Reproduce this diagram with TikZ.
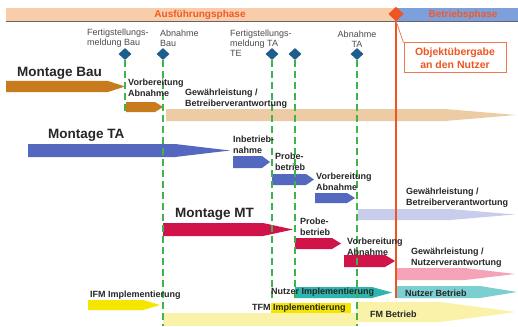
\documentclass[tikz,border=0pt]{standalone}
\usepackage{fontspec}
\setmainfont{Liberation Sans}
\usetikzlibrary{shapes.geometric}
\definecolor{peach}{HTML}{FACDAA}
\definecolor{hblue}{HTML}{7DA0DC}
\definecolor{horange}{HTML}{F05A28}
\definecolor{brown}{HTML}{C77B1C}
\definecolor{tan}{HTML}{EDCBA5}
\definecolor{tablue}{HTML}{5468C0}
\definecolor{lav}{HTML}{C8CDEB}
\definecolor{crim}{HTML}{D0144A}
\definecolor{pink}{HTML}{F5A3B8}
\definecolor{teal}{HTML}{2DB5AE}
\definecolor{lteal}{HTML}{7CCFD0}
\definecolor{yel}{HTML}{F5E600}
\definecolor{lyel}{HTML}{FAF2A8}
\definecolor{grn}{HTML}{3DB54A}
\definecolor{dblue}{HTML}{1F5E8C}
\definecolor{oline}{HTML}{EE5522}
\newcommand\bandarrow[6]{\fill[#1] (#2,#3) -- (#6,#3) -- (#4,{(#3+#5)/2}) -- (#6,#5) -- (#2,#5) -- cycle;}
\begin{document}
\begin{tikzpicture}[x=1pt,y=-1pt,
  lbl/.style={inner sep=0pt, anchor=west, align=left, font=\fontsize{9}{10.8}\selectfont\bfseries, text=black!85},
  ms/.style={inner sep=0pt, align=left, font=\fontsize{9}{10}\selectfont, text=black!70},
  big/.style={inner sep=0pt, anchor=west, font=\fontsize{13.5}{15}\selectfont\bfseries, text=black!85},
  gl/.style={draw=grn, line width=1.8pt, dash pattern=on 7pt off 4pt},
  msd/.style={diamond, fill=dblue, minimum width=13pt, minimum height=12pt, inner sep=0pt},
  htext/.style={inner sep=0pt, font=\fontsize{10}{12}\selectfont\bfseries, text=horange}]
\useasboundingbox (0,0) rectangle (518,326);
\fill[white] (0,0) rectangle (518,326);
% header
\fill[peach] (6,8) rectangle (395,21);
\fill[hblue] (395,8) rectangle (518,21);
\draw[black!60, line width=0.6pt] (6,21) -- (518,21);
\node[htext] (ph1) at (200,14.5) {Ausführungsphase};
\node[htext] (ph2) at (463,14.5) {Betriebsphase};
% bands
\bandarrow{brown}{6}{81}{125}{92}{108}
\bandarrow{brown}{126}{102}{163}{112}{155}
\bandarrow{tan}{166}{109}{516}{121}{445}
\bandarrow{tablue}{28}{144}{230}{157}{175}
\bandarrow{tablue}{233}{156}{270}{168}{262}
\bandarrow{tablue}{272}{174}{314}{185}{306}
\bandarrow{tablue}{315}{193}{355}{203}{347}
\bandarrow{lav}{358}{209}{515}{220}{450}
\bandarrow{crim}{163}{223}{293}{236}{263}
\bandarrow{crim}{295}{238}{341}{249}{332}
\bandarrow{crim}{344}{255}{395}{267}{385}
\bandarrow{pink}{395}{268}{515}{280}{465}
\bandarrow{teal}{295}{287}{392}{298}{372}
\bandarrow{lteal}{397}{286}{517}{298}{480}
\bandarrow{yel}{88}{300}{160}{310}{143}
\fill[lyel] (163,313) rectangle (357,326);
\fill[yel] (271,303) rectangle (351,313);
\bandarrow{lyel}{357}{302}{516}{322}{440}
% milestone diamonds
\node[msd] (m1) at (125,54) {};
\node[msd] (m2) at (163,54) {};
\node[msd] (m3) at (272,54) {};
\node[msd] (m4) at (295,54) {};
\node[msd] (m5) at (357,54) {};
\coordinate (e1) at (125,113);
\coordinate (e2) at (163,326);
\coordinate (e3) at (272,298);
\coordinate (e4) at (295,298);
\coordinate (e5) at (357,326);
\draw[gl] (m1.south) -- (e1);
\draw[gl] (m2.south) -- (e2);
\draw[gl] (m3.south) -- (e3);
\draw[gl] (m4.south) -- (e4);
\draw[gl] (m5.south) -- (e5);
% handover
\node[diamond, fill=oline, minimum width=15pt, minimum height=14pt, inner sep=0pt] (hd) at (396,14) {};
\coordinate (he) at (396,298);
\draw[oline, line width=2.4pt] (hd.center) -- (he);
\node[diamond, fill=oline, minimum width=15pt, minimum height=14pt, inner sep=0pt] at (hd) {};
\node[draw=oline!80, line width=1pt, fill=white, minimum width=102pt, minimum height=30pt, inner sep=0pt, align=center,
  font=\fontsize{10.5}{13}\selectfont\bfseries, text=oline] (ob) at (455,58) {Objektübergabe\\an den Nutzer};
\draw[oline!80, line width=0.8pt] (hd.south) -- (ob.north west);
% milestone labels
\node[ms, anchor=west] (t1) at (87,38.5) {Fertigstellungs-\\meldung Bau};
\node[ms, anchor=west] (t2) at (160,38.5) {Abnahme\\Bau};
\node[ms, anchor=west] (t3) at (230,43) {Fertigstellungs-\\meldung TA\\TE};
\node[ms, align=center] (t5) at (357,39) {Abnahme\\TA};
% big labels
\node[big] (mb) at (17,73) {Montage Bau};
\node[big] (mta) at (48,135) {Montage TA};
\node[big] (mmt) at (175,214) {Montage MT};
% small labels
\node[lbl] (l1) at (128,88) {Vorbereitung\\Abnahme};
\node[lbl] (l2) at (185,99) {Gewährleistung /\\Betreiberverantwortung};
\node[lbl] (l3) at (233,144.5) {Inbetrieb-\\nahme};
\node[lbl] (l4) at (275,161.5) {Probe-\\betrieb};
\node[lbl] (l5) at (316,181.5) {Vorbereitung\\Abnahme};
\node[lbl] (l6) at (406,198) {Gewährleistung /\\Betreiberverantwortung};
\node[lbl] (l7) at (300,227) {Probe-\\betrieb};
\node[lbl] (l8) at (347,246.5) {Vorbereitung\\Abnahme};
\node[lbl] (l9) at (411,258) {Gewährleistung /\\Nutzerverantwortung};
\node[lbl] (l10) at (271,292) {Nutzer Implementierung};
\node[lbl] (l11) at (405,293) {Nutzer Betrieb};
\node[lbl] (l12) at (90,295) {IFM Implementierung};
\node[lbl] (l13) at (252,308) {TFM Implementierung};
\node[lbl] (l14) at (370,314) {FM Betrieb};
\end{tikzpicture}
\end{document}
